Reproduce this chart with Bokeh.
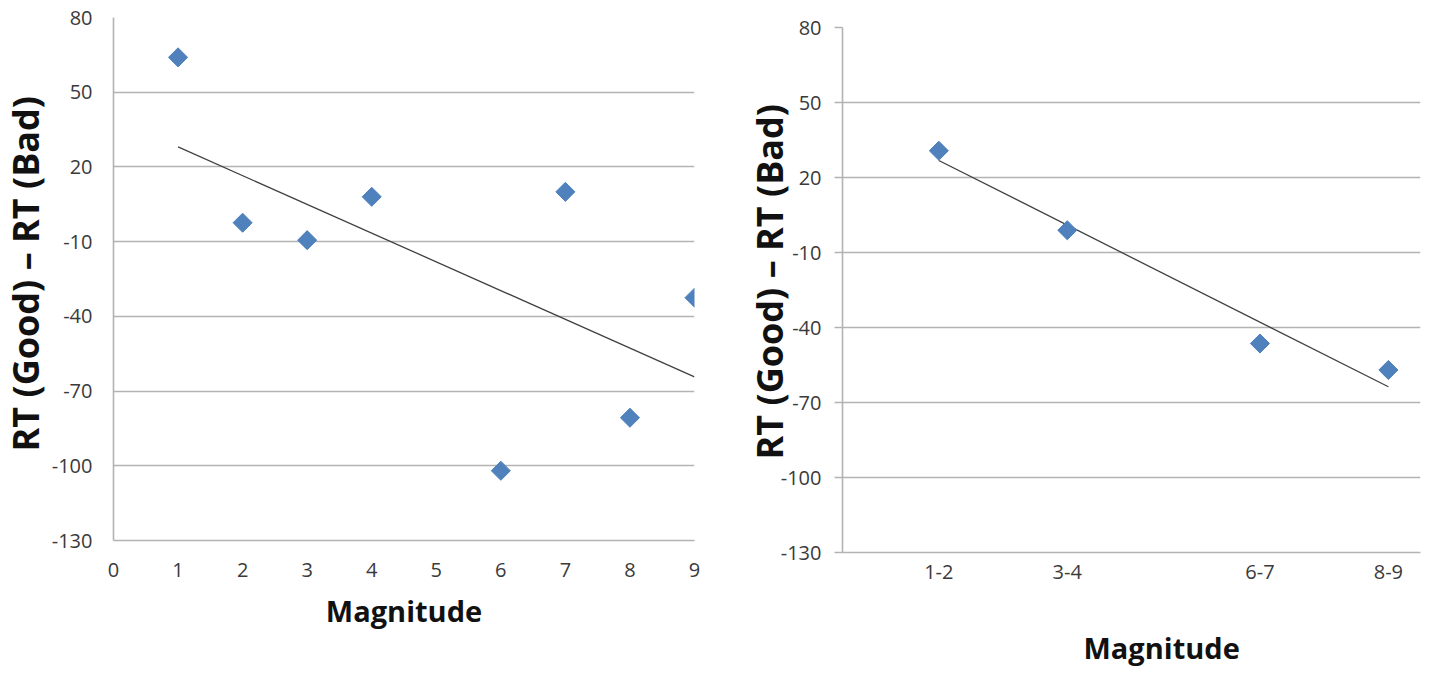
import numpy as np
from bokeh.plotting import figure
from bokeh.layouts import row
from bokeh.models import FixedTicker, Range1d, Title
from bokeh.embed import file_html
from bokeh.resources import INLINE

# ---- data ----
mag_left = [1, 2, 3, 4, 6, 7, 8, 9]
diff_left = [64.0, -2.4, -9.4, 8.0, -102.0, 10.0, -80.7, -32.5]

mag_right = [1.5, 3.5, 6.5, 8.5]
mag_right_labels = ["1-2", "3-4", "6-7", "8-9"]
diff_right = [30.7, -1.1, -46.4, -57.0]

y_ticks = [-130, -100, -70, -40, -10, 20, 50, 80]
x_ticks_left = [0, 1, 2, 3, 4, 5, 6, 7, 8, 9]

y_label = "RT (Good) \u2013 RT (Bad)"
x_label = "Magnitude"

FONT = "Open Sans"
GRID = "#B3B3B3"
TICK_COLOR = "#3a3a3a"
LABEL_COLOR = "#111111"
MARKER = "#4F81BD"
TREND = "#404040"


def style(p, y_tick_out):
    p.outline_line_color = None
    p.xgrid.visible = False
    p.ygrid.ticker = FixedTicker(ticks=y_ticks)
    p.ygrid.grid_line_color = GRID
    p.ygrid.grid_line_width = 1.6
    p.yaxis.ticker = FixedTicker(ticks=y_ticks)
    p.yaxis.major_label_overrides = {v: str(v) for v in y_ticks}
    for ax in (p.xaxis[0], p.yaxis[0]):
        ax.axis_line_color = GRID
        ax.axis_line_width = 1.6
        ax.minor_tick_line_color = None
        ax.major_tick_in = 0
        ax.major_label_text_font = FONT
        ax.major_label_text_font_size = "20px"
        ax.major_label_text_color = TICK_COLOR
    p.xaxis.major_tick_out = 0
    p.yaxis.major_tick_out = y_tick_out
    p.yaxis.major_tick_line_color = GRID
    p.yaxis.major_tick_line_width = 1.6


def add_trend(p, xs, ys):
    xs = np.asarray(xs, dtype=float)
    ys = np.asarray(ys, dtype=float)
    k, b = np.polyfit(xs, ys, 1)
    tx = np.array([xs.min(), xs.max()])
    p.line(tx, k * tx + b, line_color=TREND, line_width=1.3)


def add_title(p, text, side, size, align, offset, standoff, valign):
    p.add_layout(Title(text=text, align=align, offset=offset, standoff=standoff,
                       vertical_align=valign, text_font=FONT, text_font_size=size,
                       text_font_style="bold", text_color=LABEL_COLOR), side)


# ---- left chart ----
p1 = figure(width=740, height=672, output_backend="svg", toolbar_location=None,
            x_range=Range1d(0, 9), y_range=Range1d(-130, 80),
            min_border_left=111, min_border_right=46,
            min_border_top=17, min_border_bottom=132, frame_align=False)
style(p1, 0)
p1.xaxis.ticker = FixedTicker(ticks=x_ticks_left)
p1.xaxis.major_label_standoff = 22
p1.yaxis.major_label_standoff = 21
add_trend(p1, mag_left, diff_left)
p1.scatter(mag_left, diff_left, marker="square", angle=np.pi / 4, size=13.5,
           fill_color=MARKER, line_color=MARKER)
add_title(p1, y_label, "left", "36px", "left", 89, -3, "bottom")
add_title(p1, x_label, "below", "29px", "center", 0, 22, "top")

# ---- right chart ----
p2 = figure(width=687, height=672, output_backend="svg", toolbar_location=None,
            x_range=Range1d(0, 9), y_range=Range1d(-130, 80),
            min_border_left=102, min_border_right=7,
            min_border_top=27, min_border_bottom=120, frame_align=False)
style(p2, 8)
p2.xaxis.ticker = FixedTicker(ticks=mag_right)
p2.xaxis.major_label_overrides = {x: lab for x, lab in zip(mag_right, mag_right_labels)}
p2.xaxis.major_label_standoff = 12
p2.yaxis.major_label_standoff = 13
# axis title sits right of the frame centre, as in the reference
p2.xaxis.axis_label = "\u00a0" * 8 + x_label
p2.xaxis.axis_label_standoff = 46
p2.xaxis.axis_label_text_font = FONT
p2.xaxis.axis_label_text_font_size = "29px"
p2.xaxis.axis_label_text_font_style = "bold"
p2.xaxis.axis_label_text_color = LABEL_COLOR
add_trend(p2, mag_right, diff_right)
p2.scatter(mag_right, diff_right, marker="square", angle=np.pi / 4, size=13.5,
           fill_color=MARKER, line_color=MARKER)
add_title(p2, y_label, "left", "36px", "left", 93, -33, "bottom")

layout = row(p1, p2)
open("out.html", "w").write(file_html(layout, INLINE))
